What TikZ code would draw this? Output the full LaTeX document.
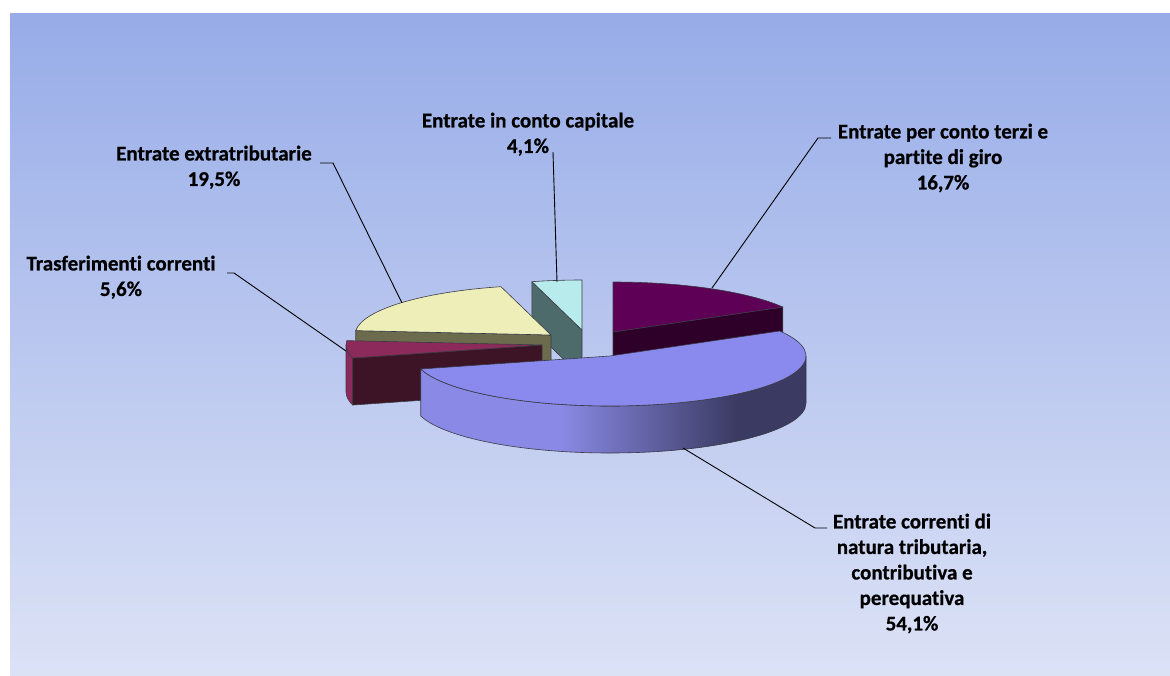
\documentclass[tikz,border=0pt]{standalone}
\usepackage{fontspec}
\setmainfont{Carlito}[Ligatures=NoCommon, BoldFeatures={FakeBold=0.6}]
\usetikzlibrary{calc}
\definecolor{bgtop}{HTML}{97ACE8}
\definecolor{bgbot}{HTML}{DCE2F6}
\definecolor{lavtop}{HTML}{8A8AEE}
\definecolor{lavL}{HTML}{8A8AE6}
\definecolor{lavD}{HTML}{3A3A62}
\definecolor{purtop}{HTML}{5E0056}
\definecolor{purcut}{HTML}{2E0029}
\definecolor{cyantop}{HTML}{B8ECEC}
\definecolor{cyancut}{HTML}{4E6B6B}
\definecolor{yeltop}{HTML}{EEEEB8}
\definecolor{yelcut}{HTML}{6C6B4E}
\definecolor{redtop}{HTML}{8C2A5C}
\definecolor{redcut}{HTML}{3C1426}
\definecolor{edgecol}{HTML}{3A3A44}
\pgfdeclarehorizontalshading{lavside}{100bp}{color(0bp)=(lavL); color(43bp)=(lavL); color(66bp)=(lavD); color(100bp)=(lavD)}
\begin{document}
\begin{tikzpicture}[x=1pt,y=1pt,
  face/.style={draw=edgecol, line width=0.6pt, line join=round},
  lead/.style={draw=black, line width=0.9pt},
  lbl/.style={font=\fontsize{21}{25.5}\selectfont\bfseries, align=center, anchor=north, inner sep=0pt, text=black}]
\def\ra{196}\def\rb{50}\def\hh{47}
\useasboundingbox (0,0) rectangle (1170,-675);
\fill[white] (0,0) rectangle (1170,-675);
\shade[top color=bgtop, bottom color=bgbot] (10,-13) rectangle (1170,-675);
% slice centres
\coordinate (P) at (613,-332);
\coordinate (C) at (582,-330);
\coordinate (Y) at (551,-335);
\coordinate (R) at (542,-345);
\coordinate (L) at (610,-356);
% purple: conto terzi
\path[face, fill=purcut] (P) -- ($(P)+(30:\ra pt and \rb pt)$) -- ++(0,-\hh) -- ($(P)+(0,-\hh)$) -- cycle;
\path[face, fill=purtop] (P) -- ($(P)+(90:\ra pt and \rb pt)$) arc[start angle=90, end angle=30, x radius=\ra pt, y radius=\rb pt] -- cycle;
% cyan: conto capitale
\path[face, fill=cyancut] (C) -- ($(C)+(104.8:\ra pt and \rb pt)$) -- ++(0,-\hh) -- ($(C)+(0,-\hh)$) -- cycle;
\path[face, fill=cyantop] (C) -- ($(C)+(104.8:\ra pt and \rb pt)$) arc[start angle=104.8, end angle=90, x radius=\ra pt, y radius=\rb pt] -- cycle;
% yellow: extratributarie
\path[face, fill=yelcut] (Y) -- ($(Y)+(175:\ra pt and \rb pt)$) -- ++(0,-\hh) -- ($(Y)+(0,-\hh)$) -- cycle;
\path[face, fill=yeltop] (Y) -- ($(Y)+(175:\ra pt and \rb pt)$) arc[start angle=175, end angle=104.8, x radius=\ra pt, y radius=\rb pt] -- cycle;
% red: trasferimenti
\path[face, fill=redtop] ($(R)+(180:\ra pt and \rb pt)$) arc[start angle=180, end angle=195.1, x radius=\ra pt, y radius=\rb pt] -- ++(0,-\hh) arc[start angle=195.1, end angle=180, x radius=\ra pt, y radius=\rb pt] -- cycle;
\path[face, fill=redcut] (R) -- ($(R)+(195.1:\ra pt and \rb pt)$) -- ++(0,-\hh) -- ($(R)+(0,-\hh)$) -- cycle;
\path[face, fill=redtop] (R) -- ($(R)+(175:\ra pt and \rb pt)$) arc[start angle=175, end angle=195.1, x radius=\ra pt, y radius=\rb pt] -- cycle;
% lavender: entrate correnti
\shadedraw[face, shading=lavside] ($(L)+(-164.9:\ra pt and \rb pt)$) arc[start angle=-164.9, end angle=0, x radius=\ra pt, y radius=\rb pt] -- ++(0,-\hh) arc[start angle=0, end angle=-164.9, x radius=\ra pt, y radius=\rb pt] -- cycle;
\path[face, fill=lavtop] (L) -- ($(L)+(30:\ra pt and \rb pt)$) arc[start angle=30, end angle=-164.9, x radius=\ra pt, y radius=\rb pt] -- cycle;
% labels
\node[lbl] (lcap) at (528,-112.5) {Entrate in conto capitale\\4,1\%};
\node[lbl] (lter) at (943,-123.5) {Entrate per conto terzi e\\partite di giro\\16,7\%};
\node[lbl] (lext) at (214,-145.5) {Entrate extratributarie\\19,5\%};
\node[lbl] (ltra) at (121,-255.5) {Trasferimenti correnti\\5,6\%};
\node[lbl] (lcor) at (912,-513.5) {Entrate correnti di\\natura tributaria,\\contributiva e\\perequativa\\54,1\%};
% leader lines
\coordinate (capA) at (557,-282); \coordinate (capB) at (553,-152);
\coordinate (terA) at (712,-288); \coordinate (terB) at (818,-138); \coordinate (terC) at (831,-138);
\coordinate (extA) at (402,-303); \coordinate (extB) at (333,-163); \coordinate (extC) at (320,-163);
\coordinate (traA) at (346,-351); \coordinate (traB) at (234,-273); \coordinate (traC) at (227,-273);
\coordinate (corA) at (683,-448); \coordinate (corB) at (815,-528); \coordinate (corC) at (827,-528);
\draw[lead] (capA) -- (capB);
\draw[lead] (terA) -- (terB) -- (terC);
\draw[lead] (extA) -- (extB) -- (extC);
\draw[lead] (traA) -- (traB) -- (traC);
\draw[lead] (corA) -- (corB) -- (corC);
\end{tikzpicture}
\end{document}
